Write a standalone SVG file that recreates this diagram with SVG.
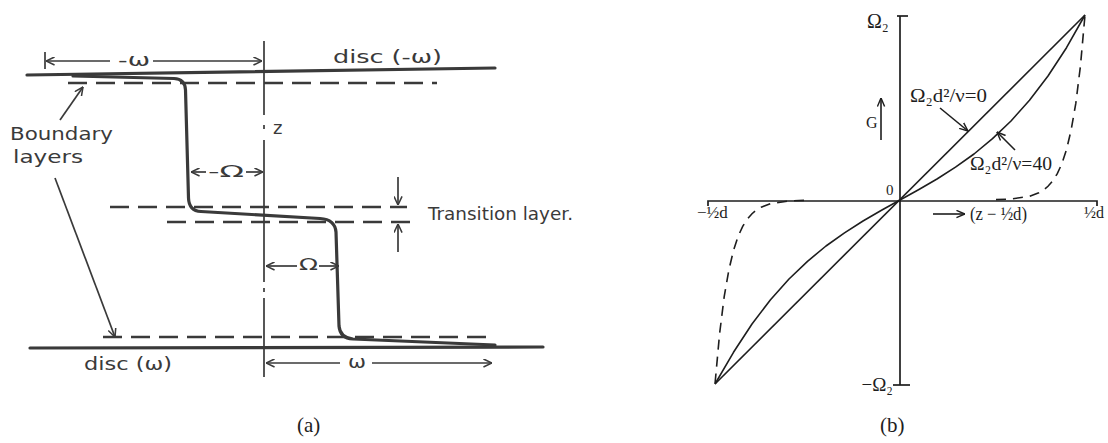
<svg xmlns="http://www.w3.org/2000/svg" width="1108" height="443" viewBox="0 0 1108 443">
<style>
.hand{font-family:"DejaVu Sans","Liberation Sans",sans-serif;fill:#3a3a3a;}
.ser{font-family:"Liberation Serif","DejaVu Serif",serif;fill:#1e1e1e;}
.thick{stroke:#3a3a3a;stroke-width:3.2;fill:none;stroke-linecap:round;stroke-linejoin:round;}
.thin{stroke:#3a3a3a;stroke-width:1.7;fill:none;}
.dash{stroke:#3a3a3a;stroke-width:2.5;fill:none;stroke-dasharray:19 9;}
.ax{stroke:#1e1e1e;stroke-width:1.7;fill:none;}
.crv{stroke:#1e1e1e;stroke-width:1.6;fill:none;stroke-linejoin:round;}
.dcrv{stroke:#1e1e1e;stroke-width:1.6;fill:none;stroke-dasharray:10 7;}
</style>
<defs>
<marker id="ah" viewBox="0 0 10 10" refX="9.5" refY="5" markerWidth="9" markerHeight="9" markerUnits="userSpaceOnUse" orient="auto">
<path d="M0,0.5 L9.5,5 L0,9.5" fill="none" stroke="#3a3a3a" stroke-width="1.7"/>
</marker>
<marker id="ahb" viewBox="0 0 10 10" refX="9.5" refY="5" markerWidth="9" markerHeight="9" markerUnits="userSpaceOnUse" orient="auto">
<path d="M0,1 L9.5,5 L0,9" fill="none" stroke="#1e1e1e" stroke-width="1.6"/>
</marker>
</defs>
<rect width="1108" height="443" fill="#ffffff"/>

<!-- Panel (a) -->
<g id="panel-a">
<g id="discs">
<path class="thick" d="M27,75 L495,68"/>
<path class="thick" d="M30,348 L543,347"/>
</g>
<g id="centre-line">
<path class="thin" d="M264,41 L264,115 M264,125 L264,129 M264,140 L264,282 M264,288 L264,292 M264,298 L264,377"/>
</g>
<g id="dashed-lines">
<path class="dash" d="M68,83 L437,83"/>
<path class="dash" d="M110,207 L407,207"/>
<path class="dash" d="M167,222 L415,222"/>
<path class="dash" d="M103,337 L492,337"/>
</g>
<g id="profile">
<path class="thick" d="M73,76 L174,78.5 Q185,79 185.5,90 L188.5,198 Q189,211 201,211.5 L320,218.5 Q335,219.5 336,232 L339,326 Q340,338 353,339 L495,345"/>
</g>
<g id="connectors">
<path class="thin" d="M45,52 L45,69"/>
<path class="thin" d="M110,61 L46,61" marker-end="url(#ah)"/>
<path class="thin" d="M153,61 L262,61" marker-end="url(#ah)"/>
<path class="thin" d="M206,172 L191,172" marker-end="url(#ah)"/>
<path class="thin" d="M246,172 L263,172" marker-end="url(#ah)"/>
<path class="thin" d="M297,266 L266,266" marker-end="url(#ah)"/>
<path class="thin" d="M319,266 L339,266" marker-end="url(#ah)"/>
<path class="thin" d="M340,363 L266,363" marker-end="url(#ah)"/>
<path class="thin" d="M372,363 L492,363" marker-end="url(#ah)"/>
<path class="thin" d="M398,177 L398,205" marker-end="url(#ah)"/>
<path class="thin" d="M398,252 L398,224" marker-end="url(#ah)"/>
<path class="thin" d="M60,120 L83,87" marker-end="url(#ah)"/>
<path class="thin" d="M55,178 L115,337" marker-end="url(#ah)"/>
</g>
<g id="labels-a">
<text class="hand" x="118" y="66" font-size="18" textLength="32" lengthAdjust="spacingAndGlyphs">-ω</text>
<text class="hand" x="333" y="63" font-size="18" textLength="109" lengthAdjust="spacingAndGlyphs">disc (-ω)</text>
<text class="hand" x="273" y="134" font-size="18">z</text>
<text class="hand" x="208" y="177" font-size="15" textLength="36" lengthAdjust="spacingAndGlyphs">-Ω</text>
<text class="hand" x="299" y="270" font-size="15" textLength="19" lengthAdjust="spacingAndGlyphs">Ω</text>
<text class="hand" x="428" y="220" font-size="18" textLength="145" lengthAdjust="spacingAndGlyphs">Transition layer.</text>
<text class="hand" x="10" y="140" font-size="18" textLength="103" lengthAdjust="spacingAndGlyphs">Boundary</text>
<text class="hand" x="13" y="163" font-size="18" textLength="70" lengthAdjust="spacingAndGlyphs">layers</text>
<text class="hand" x="84" y="370" font-size="18" textLength="88" lengthAdjust="spacingAndGlyphs">disc (ω)</text>
<text class="hand" x="348" y="368" font-size="18" textLength="18" lengthAdjust="spacingAndGlyphs">ω</text>
<text class="ser" x="297" y="432" font-size="21">(a)</text>
</g>
</g>

<!-- Panel (b) -->
<g id="panel-b">
<g id="axes">
<path class="ax" d="M900,16 L900,385"/>
<path class="ax" d="M897,16 L908,16"/>
<path class="ax" d="M893,385 L910,385"/>
<path class="ax" d="M708,206 L708,201 L1097,201 L1097,206"/>
</g>
<g id="curves">
<path class="crv" d="M715,384 L1085,15"/>
<polyline class="crv" points="715,384 733.5,352.3 752,324 770.5,299.8 789,279 807.5,261.3 826,246 844.5,232.8 863,221 881.5,210.3 900,200 918.5,189.7 937,179 955.5,167.2 974,154 992.5,138.7 1011,121 1029.5,100.2 1048,76 1066.5,47.7 1085,15"/>
<polyline class="dcrv" points="996,199.6 1011,199 1029.5,196.3 1038.8,192.8 1043.4,190.1 1048,186.3 1052.6,181 1057.3,173.7 1061.9,163.6 1066.5,149.6 1071.1,130.2 1075.8,103.4 1080.4,66.3 1085,15"/>
<polyline class="dcrv" points="804,200.4 789,201 770.5,203.7 761.2,207.2 756.6,209.9 752,213.7 747.4,219 742.7,226.3 738.1,236.4 733.5,250.4 728.9,269.8 724.2,296.6 719.6,333.7 715,384"/>
</g>
<g id="arrows-b">
<path class="crv" d="M881,140 L881,98" marker-end="url(#ahb)"/>
<path class="crv" d="M940,108 L968,131" marker-end="url(#ahb)"/>
<path class="crv" d="M1015,150 L997,132" marker-end="url(#ahb)"/>
<path class="crv" d="M933,214 L965,214" marker-end="url(#ahb)"/>
</g>
<g id="labels-b">
<text class="ser" x="867" y="28" font-size="20">Ω₂</text>
<text class="ser" x="893" y="391" font-size="19" text-anchor="end">−Ω₂</text>
<text class="ser" x="886" y="195" font-size="15">0</text>
<text class="ser" x="866" y="128" font-size="16">G</text>
<text class="ser" x="697" y="218" font-size="17">−½d</text>
<text class="ser" x="1104" y="218" font-size="16" text-anchor="end">½d</text>
<text class="ser" x="970" y="220" font-size="18" textLength="57" lengthAdjust="spacingAndGlyphs">(z − ½d)</text>
<text class="ser" x="910" y="102" font-size="19" textLength="77" lengthAdjust="spacingAndGlyphs">Ω₂d²/ν=0</text>
<text class="ser" x="970" y="170" font-size="19" textLength="82" lengthAdjust="spacingAndGlyphs">Ω₂d²/ν=40</text>
<text class="ser" x="880" y="432" font-size="21">(b)</text>
</g>
</g>
</svg>
